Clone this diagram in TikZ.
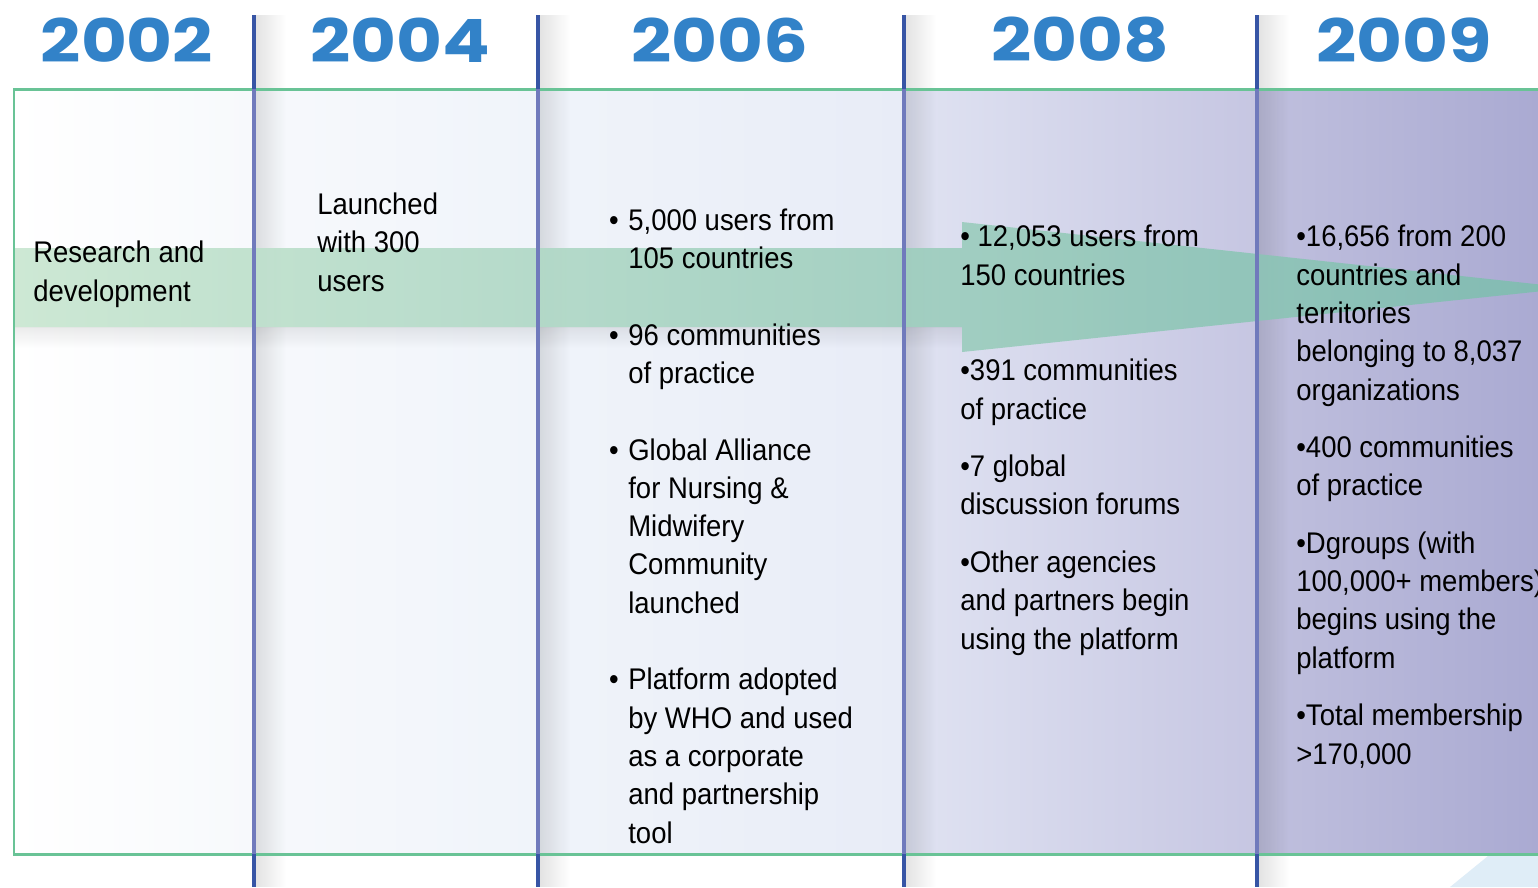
\documentclass[tikz,border=0pt]{standalone}
\usepackage{fontspec}
\setmainfont{Liberation Sans}[FakeStretch=0.92]
\newfontfamily\yearfont{Poppins}[FakeStretch=1.18]
\usetikzlibrary{fadings, positioning}
\definecolor{yearblue}{RGB}{50,130,200}
\definecolor{sepblue}{RGB}{55,85,165}
\definecolor{sepin}{RGB}{112,122,188}
\definecolor{boxgreen}{RGB}{105,195,150}
\definecolor{arrowgreen}{RGB}{200,230,208}
\definecolor{arrowteal}{RGB}{125,188,175}
\definecolor{bgA}{RGB}{247,249,252}
\definecolor{bgB}{RGB}{240,244,250}
\definecolor{bgC}{RGB}{232,236,247}
\definecolor{bgD}{RGB}{224,227,242}
\definecolor{bgE}{RGB}{198,198,226}
\definecolor{bgF}{RGB}{192,192,222}
\definecolor{bgG}{RGB}{170,170,210}
\definecolor{streak}{RGB}{215,232,245}
\newcommand{\bul}{\makebox[0pt][r]{\textbullet\hspace{5.5pt}}}

\begin{document}
\begin{tikzpicture}[
  x=0.02cm, y=-0.02cm,
  yr/.style={font=\yearfont\bfseries\fontsize{34}{34}\selectfont,
    text=yearblue, inner sep=0pt},
  txt/.style={font=\fontsize{17}{21.8}\selectfont, align=left,
    anchor=base west, inner sep=0pt},
  sep/.style={line width=2.8pt},
  shadowbar/.style={black, opacity=.11, path fading=east}
]
\useasboundingbox (0,0) rectangle (1538,887);

% Background inside the frame
\shade[left color=white, right color=bgA] (14,89) rectangle (254,854);
\shade[left color=bgA, right color=bgB] (254,89) rectangle (538,854);
\shade[left color=bgB, right color=bgC] (538,89) rectangle (904,854);
\shade[left color=bgD, right color=bgE] (904,89) rectangle (1257,854);
\shade[left color=bgF, right color=bgG] (1257,89) rectangle (1538,854);

% Faint streak, bottom right
\fill[streak, opacity=.8] (1450,887) -- (1488,856) -- (1538,856) -- (1538,887) -- cycle;

% Shadows beside the year lines
\foreach \sx in {254,538,904,1257}
  \fill[shadowbar] (\sx+2,15) rectangle (\sx+32,887);

% Growth arrow
\shade[left color=arrowgreen, right color=arrowteal, opacity=.9]
  (14,248) -- (962,248) -- (962,222) -- (1572,288)
  -- (962,352) -- (962,327) -- (14,327) -- cycle;
\fill[black, opacity=.08, path fading=south] (14,327) rectangle (962,348);

% Frame
\draw[boxgreen, line width=1.7pt]
  (1545,89) -- (14,89) -- (14,854) -- (1545,854);

% Year lines
\foreach \sx in {254,538,904,1257} {
  \draw[sep, sepblue] (\sx,15) -- (\sx,89);
  \draw[sep, sepin] (\sx,89) -- (\sx,854);
  \draw[sep, sepblue] (\sx,854) -- (\sx,887);
}

% Years
\node[yr] (y2002) at (127,40) {2002};
\node[yr] (y2004) at (400,40) {2004};
\node[yr] (y2006) at (720,40) {2006};
\node[yr] (y2008) at (1080,40) {2008};
\node[yr] (y2009) at (1404,40) {2009};

% Milestones (placed by the baseline of their last line)
\node[txt] (t2002) at (33,301) {Research and\\development};
\node[txt] (t2004) at (317,291) {Launched\\with 300\\users};
\node[txt] (t2006) at (628,843)
  {\bul 5,000 users from\\105 countries\\[21.8pt]
   \bul 96 communities\\of practice\\[21.8pt]
   \bul Global Alliance\\for Nursing \&\\Midwifery\\Community\\launched\\[21.8pt]
   \bul Platform adopted\\by WHO and used\\as a corporate\\and partnership\\tool};
\node[txt] (t2008) at (960,649)
  {\textbullet\ 12,053 users from\\150 countries\\[32.7pt]
   \textbullet 391 communities\\of practice\\[10.9pt]
   \textbullet 7 global\\discussion forums\\[10.9pt]
   \textbullet Other agencies\\and partners begin\\using the platform};
\node[txt] (t2009) at (1296,764)
  {\textbullet 16,656 from 200\\countries and\\territories\\belonging to 8,037\\organizations\\[10.9pt]
   \textbullet 400 communities\\of practice\\[10.9pt]
   \textbullet Dgroups (with\\100,000+ members)\\begins using the\\platform\\[10.9pt]
   \textbullet Total membership\\>170,000};

\end{tikzpicture}
\end{document}
